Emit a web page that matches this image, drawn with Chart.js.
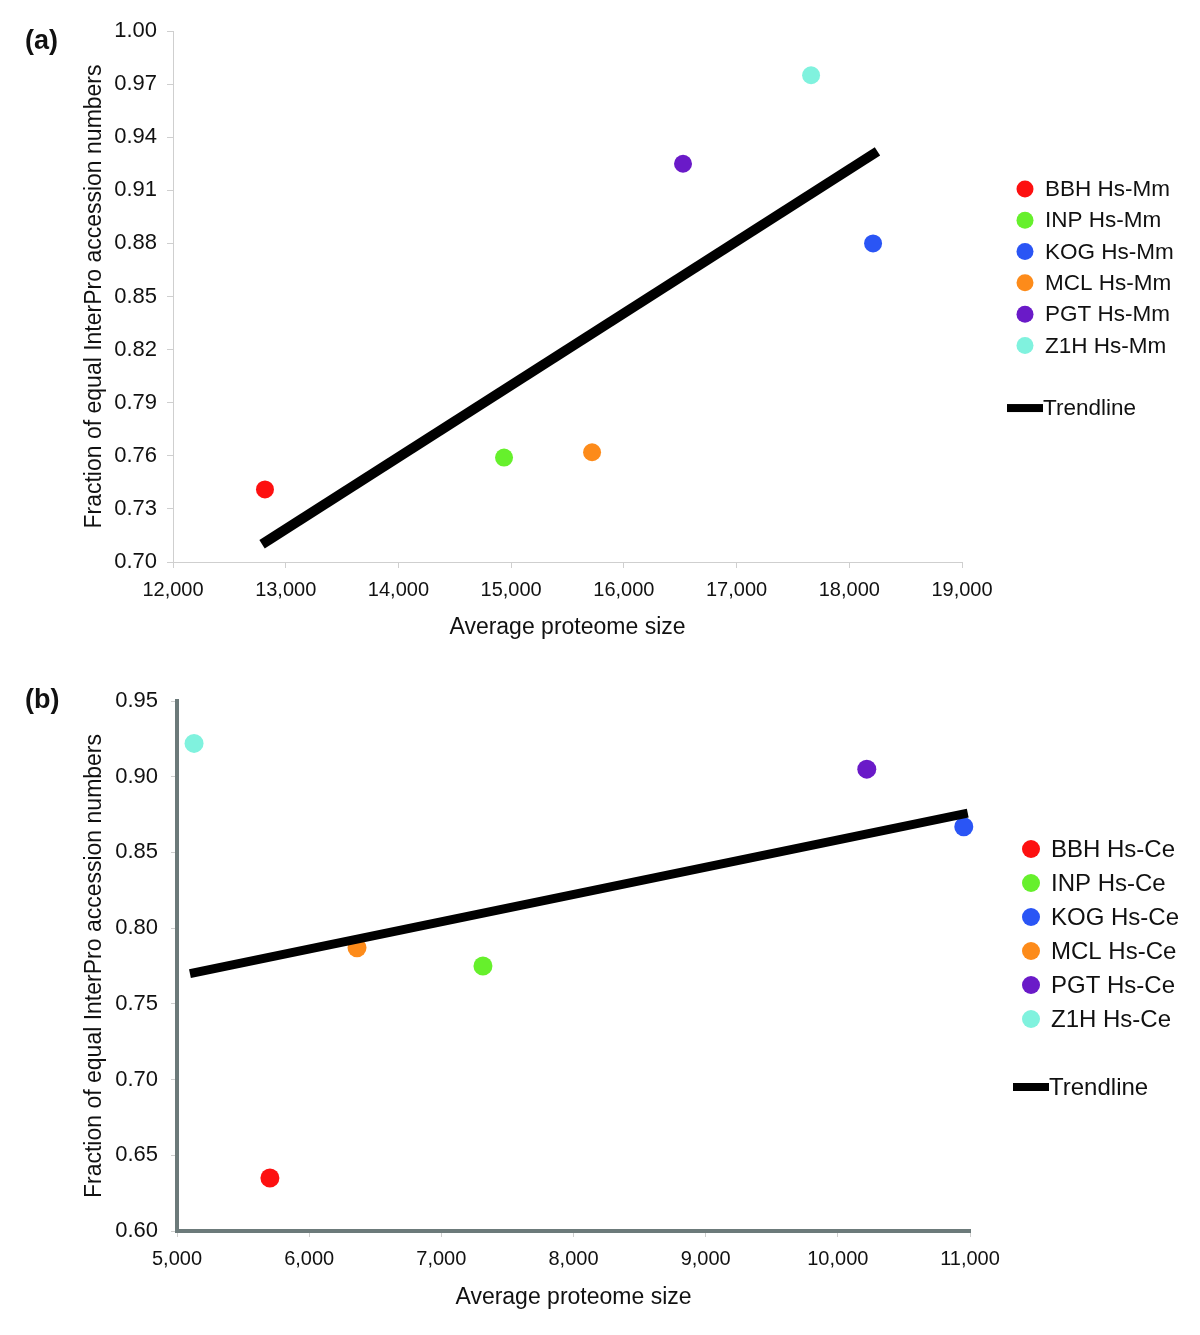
<!DOCTYPE html>
<html>
<head>
<meta charset="utf-8">
<script src="https://cdn.jsdelivr.net/npm/chart.js@4.4.0/dist/chart.umd.min.js"></script>
<style>
  body { margin: 0; background: #fff; font-family: "Liberation Sans", Arial, sans-serif; }
  .panel { position: absolute; left: 0; width: 1200px; }
  .tag { position: absolute; left: 25px; font-weight: bold; font-size: 27px; line-height: 27px; color: #111; }
</style>
</head>
<body>
<div class="panel" style="top:0;height:660px">
  <canvas id="chartA" width="1200" height="660"></canvas>
  <div class="tag" style="top:27px">(a)</div>
</div>
<div class="panel" style="top:660px;height:675px">
  <canvas id="chartB" width="1200" height="675"></canvas>
  <div class="tag" style="top:26px">(b)</div>
</div>
<script>
// orthology methods, same order in both panels
const methods = ['BBH', 'INP', 'KOG', 'MCL', 'PGT', 'Z1H'];
const methodColors = ['#fd1010', '#66f02c', '#2a55f5', '#fd8b1a', '#6a1ac8', '#80f2de'];

// (a) human - mouse
const sizeHsMm = [12816, 14937, 18211, 15718, 16525, 17661];
const fracHsMm = [0.741, 0.759, 0.880, 0.762, 0.925, 0.975];
const trendXHsMm = [12790, 18250];
const trendYHsMm = [0.710, 0.932];
const xTicksHsMm = [12000, 13000, 14000, 15000, 16000, 17000, 18000, 19000];
const yTicksHsMm = [0.70, 0.73, 0.76, 0.79, 0.82, 0.85, 0.88, 0.91, 0.94, 0.97, 1.00];

// (b) human - worm
const sizeHsCe = [5703, 7315, 10953, 6362, 10219, 5129];
const fracHsCe = [0.635, 0.775, 0.867, 0.787, 0.905, 0.922];
const trendXHsCe = [5098, 10983];
const trendYHsCe = [0.770, 0.876];
const xTicksHsCe = [5000, 6000, 7000, 8000, 9000, 10000, 11000];
const yTicksHsCe = [0.60, 0.65, 0.70, 0.75, 0.80, 0.85, 0.90, 0.95];

const FONT = '"Liberation Sans", Arial, sans-serif';

// legend drawn to the right of the plot area, dots then a gap then the trendline
const sideLegend = {
  id: 'sideLegend',
  afterDraw(chart, args, o) {
    const { ctx, chartArea } = chart;
    const sets = chart.data.datasets;
    const mid = (chartArea.top + chartArea.bottom) / 2 + o.dy;
    const y0 = mid - 3.5 * o.spacing;
    const cx = chartArea.right + o.dx;
    ctx.save();
    ctx.font = o.fontSize + 'px ' + FONT;
    ctx.textBaseline = 'middle';
    sets.forEach((ds, i) => {
      const isTrend = ds.type === 'line';
      const y = isTrend ? y0 + 7 * o.spacing : y0 + i * o.spacing;
      if (isTrend) {
        ctx.fillStyle = '#000';
        ctx.fillRect(cx - 18, y - 4, 36, 8);
      } else {
        ctx.fillStyle = ds.backgroundColor;
        ctx.beginPath();
        ctx.arc(cx, y, o.dot, 0, Math.PI * 2);
        ctx.fill();
      }
      ctx.fillStyle = '#111';
      ctx.fillText(ds.label, cx + (isTrend ? 18 : 20), y + 1);
    });
    ctx.restore();
  }
};

function buildChart(id, p) {
  const datasets = methods.map((m, i) => ({
    type: 'scatter',
    label: m + ' ' + p.pair,
    data: [{ x: p.sizes[i], y: p.fracs[i] }],
    backgroundColor: methodColors[i],
    borderWidth: 0,
    pointRadius: p.dot,
    pointHoverRadius: p.dot,
    clip: false
  }));
  datasets.push({
    type: 'line',
    label: 'Trendline',
    data: p.trendX.map((x, i) => ({ x, y: p.trendY[i] })),
    borderColor: '#000',
    borderWidth: p.trendWidth,
    borderCapStyle: 'butt',
    pointRadius: 0,
    clip: false,
    order: -1
  });

  return new Chart(document.getElementById(id), {
    data: { datasets },
    plugins: [sideLegend],
    options: {
      responsive: false,
      animation: false,
      layout: { padding: { top: p.top, right: p.right, left: 0, bottom: 0 } },
      plugins: {
        legend: { display: false },
        tooltip: { enabled: false },
        sideLegend: { dx: p.legendDx, dy: 2, spacing: p.legendSpacing, fontSize: p.legendFont, dot: p.legendDot }
      },
      scales: {
        x: {
          type: 'linear',
          min: p.xTicks[0],
          max: p.xTicks[p.xTicks.length - 1],
          afterBuildTicks: s => { s.ticks = p.xTicks.map(v => ({ value: v })); },
          afterFit: s => { s.height = p.xAxisH; },
          grid: { drawOnChartArea: false, tickLength: 6, color: '#cfcfcf' },
          border: { color: p.axisColor, width: p.axisWidth },
          ticks: {
            autoSkip: false, maxRotation: 0, padding: 10, color: '#111',
            font: { family: FONT, size: 20 },
            callback: v => v.toLocaleString('en-US')
          },
          title: {
            display: true, text: 'Average proteome size', color: '#111',
            font: { family: FONT, size: 23 }, padding: { top: 0, bottom: p.xTitlePad }
          }
        },
        y: {
          type: 'linear',
          min: p.yTicks[0],
          max: p.yTicks[p.yTicks.length - 1],
          afterBuildTicks: s => { s.ticks = p.yTicks.map(v => ({ value: v })); },
          afterFit: s => { s.width = p.yAxisW; },
          grid: { drawOnChartArea: false, tickLength: 6, color: '#cfcfcf' },
          border: { color: p.axisColor, width: p.axisWidth },
          ticks: {
            autoSkip: false, padding: p.yTickPad, color: '#111',
            font: { family: FONT, size: 22 },
            callback: v => v.toFixed(2)
          },
          title: {
            display: true, text: 'Fraction of equal InterPro accession numbers', color: '#111',
            font: { family: FONT, size: 23 }, padding: { top: 81, bottom: 0 }
          }
        }
      }
    }
  });
}

buildChart('chartA', {
  pair: 'Hs-Mm', sizes: sizeHsMm, fracs: fracHsMm, trendX: trendXHsMm, trendY: trendYHsMm,
  xTicks: xTicksHsMm, yTicks: yTicksHsMm,
  top: 31, right: 238, yAxisW: 173, xAxisH: 98, xTitlePad: 19, yTickPad: 10,
  axisColor: '#cfcfcf', axisWidth: 1, dot: 9, trendWidth: 10,
  legendDx: 63, legendSpacing: 31.3, legendFont: 22.5, legendDot: 8.5
});

buildChart('chartB', {
  pair: 'Hs-Ce', sizes: sizeHsCe, fracs: fracHsCe, trendX: trendXHsCe, trendY: trendYHsCe,
  xTicks: xTicksHsCe, yTicks: yTicksHsCe,
  top: 41, right: 230, yAxisW: 177, xAxisH: 104, xTitlePad: 24, yTickPad: 13,
  axisColor: '#6c7a7a', axisWidth: 4, dot: 9.5, trendWidth: 9,
  legendDx: 61, legendSpacing: 34, legendFont: 24, legendDot: 9
});
</script>
</body>
</html>
